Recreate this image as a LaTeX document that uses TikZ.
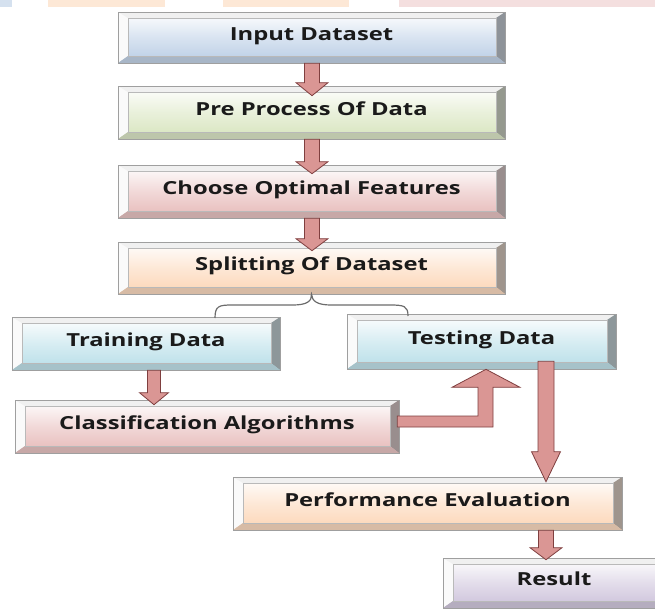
\documentclass[tikz,border=0pt]{standalone}
\usepackage{fontspec}
\newfontfamily\boxfont{Open Sans}[FakeStretch=1.32]
\usetikzlibrary{calc,shadings}
\definecolor{fblue}{HTML}{B9CDE5}
\definecolor{fgreen}{HTML}{D7E4BD}
\definecolor{fpink}{HTML}{E6B9B8}
\definecolor{forange}{HTML}{FCD5B5}
\definecolor{fcyan}{HTML}{B7DEE8}
\definecolor{flav}{HTML}{CCC1DA}
\definecolor{arrfill}{HTML}{DA9694}
\definecolor{arrdraw}{HTML}{7F3F3F}
\definecolor{txt}{HTML}{1A1A1A}
\tikzset{
  bev/.style={rectangle, inner sep=0pt, draw=gray!75, line width=0.6pt,
    top color=white, bottom color=#1, middle color=#1!55,
    text=txt, font=\boxfont\bfseries\fontsize{18}{21}\selectfont,
    text height=10pt, text depth=5pt,
    path picture={
      \coordinate (ppsw) at (path picture bounding box.south west);
      \coordinate (ppne) at (path picture bounding box.north east);
      \coordinate (ppnw) at (path picture bounding box.north west);
      \coordinate (ppse) at (path picture bounding box.south east);
      \coordinate (ppisw) at ($(ppsw)+(10pt,7pt)$);
      \coordinate (ppine) at ($(ppne)+(-9pt,-6pt)$);
      \coordinate (ppinw) at (ppisw |- ppine);
      \coordinate (ppise) at (ppisw -| ppine);
      \fill[white!96!gray] (ppsw) -- (ppnw) -- (ppinw) -- (ppisw) -- cycle;
      \fill[white!88!gray] (ppnw) -- (ppne) -- (ppine) -- (ppinw) -- cycle;
      \fill[#1!25!gray] (ppne) -- (ppse) -- (ppise) -- (ppine) -- cycle;
      \fill[#1!70!gray] (ppse) -- (ppsw) -- (ppisw) -- (ppise) -- cycle;
      \draw[gray!55, line width=0.5pt] (ppisw) rectangle (ppine);
    }},
  fatarr/.style={fill=arrfill, draw=arrdraw, line width=0.8pt, line join=miter},
  bracepath/.style={draw=gray!85!black, line width=1.2pt}
}
% #1 from anchor, #2 to anchor, #3 x centre, #4 shaft half width, #5 head half width, #6 head base offset, #7 tip offset
\newcommand\fatdn[7]{%
  \draw[fatarr] let \p1=(#1), \p2=(#2) in
    ({#3pt-#4pt},\y1) -- ({#3pt-#4pt},{\y2+#6pt}) -- ({#3pt-#5pt},{\y2+#6pt}) --
    (#3pt,{\y2-#7pt}) -- ({#3pt+#5pt},{\y2+#6pt}) -- ({#3pt+#4pt},{\y2+#6pt}) --
    ({#3pt+#4pt},\y1) -- cycle;}
\begin{document}
\begin{tikzpicture}[x=1pt,y=1pt]
\useasboundingbox (0,0) rectangle (655,-608);
\clip (0,0) rectangle (655,-608);
% top strip highlights of the page above
\fill[fblue!60] (0,0) rectangle (12,-7);
\fill[forange!55] (48,0) rectangle (165,-7);
\fill[forange!55] (223,0) rectangle (349,-7);
\fill[fpink!45] (399,0) rectangle (655,-7);

\node[bev=fblue, minimum width=387, minimum height=51] (input) at (311.5,-37.5) {Input Dataset};
\node[bev=fgreen, minimum width=387, minimum height=53] (pre) at (311.5,-112.5) {Pre Process Of Data};
\node[bev=fpink, minimum width=387, minimum height=53] (choose) at (311.5,-191.5) {Choose Optimal Features};
\node[bev=forange, minimum width=387, minimum height=52] (split) at (311.5,-268) {Splitting Of Dataset};
\node[bev=fcyan, minimum width=268, minimum height=53] (train) at (146,-343.5) {Training Data};
\node[bev=fcyan, minimum width=269, minimum height=55] (test) at (481.5,-341.5) {Testing Data};
\node[bev=fpink, minimum width=384, minimum height=53] (class) at (207,-426.5) {Classification Algorithms};
\node[bev=forange, minimum width=389, minimum height=53] (perf) at (427.5,-503.5) {Performance Evaluation};
\node[bev=flav, minimum width=222, minimum height=50] (result) at (554,-583) {Result};

% brace
\coordinate (bl) at (215,-318);
\coordinate (br) at (408,-316);
\draw[bracepath] (bl) .. controls (215,-306) and (219,-305) .. (232,-305) -- (293,-305)
   .. controls (307,-305) and (312,-301) .. (split.south)
   .. controls (312,-301) and (317,-305) .. (331,-305) -- (390,-305)
   .. controls (404,-305) and (408,-306) .. (br);

\fatdn{input.south}{pre.north}{312}{7.5}{16}{3}{10}
\fatdn{pre.south}{choose.north}{312}{7.5}{16}{3}{9}
\fatdn{choose.south}{split.north}{312}{7.5}{16}{3}{9}
\fatdn{train.south}{class.north}{154}{6.5}{14.5}{7}{5}
\fatdn{perf.south}{result.north}{546}{7.5}{16}{10}{2}
\draw[fatarr] let \p1=(test.south), \p2=(perf.north) in
  (538pt,{\y1+8pt}) -- (538pt,{\y2+25pt}) -- (531.5pt,{\y2+25pt}) -- (546pt,{\y2-5pt})
  -- (560.5pt,{\y2+25pt}) -- (554pt,{\y2+25pt}) -- (554pt,{\y1+8pt}) -- cycle;
\draw[fatarr] let \p1=(class.east), \p2=(test.south) in
  ({\x1-2pt},{\y1+10.5pt}) -- (478pt,{\y1+10.5pt}) -- (478pt,{\y2-18pt}) -- (452pt,{\y2-18pt})
  -- (486pt,\y2) -- (520pt,{\y2-18pt}) -- (493pt,{\y2-18pt}) -- (493pt,{\y1-0.5pt})
  -- ({\x1-2pt},{\y1-0.5pt}) -- cycle;
\end{tikzpicture}
\end{document}
